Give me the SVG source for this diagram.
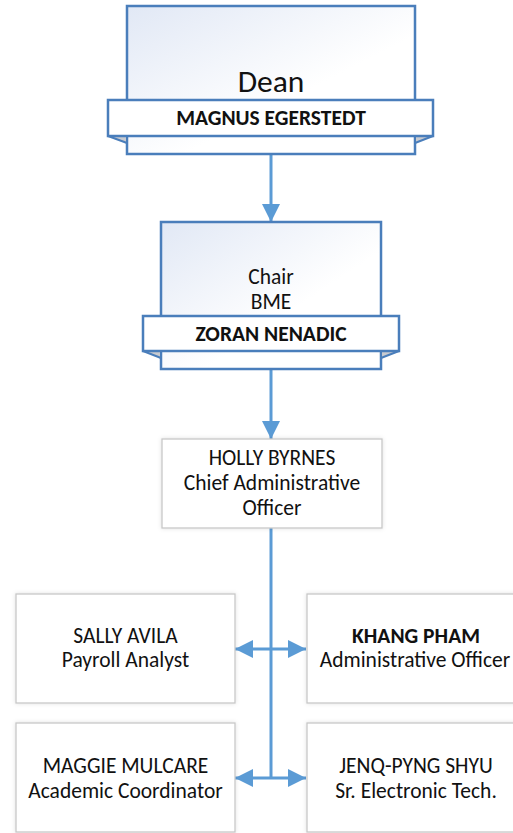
<svg xmlns="http://www.w3.org/2000/svg" width="513" height="833" viewBox="0 0 513 833">
<style>
.t{font-family:Carlito,Lato,"Liberation Sans",sans-serif;fill:#111;text-anchor:middle;font-size:21.5px}
.b{font-weight:bold}
.top{fill:url(#g);stroke:#4a7ebb;stroke-width:2.5}
.ban{fill:#fff;stroke:#4a7ebb;stroke-width:2.5}
.fold{fill:#c9cbd0;stroke:#4a7ebb;stroke-width:2;stroke-linejoin:round}
.box{fill:#fff;stroke:#c8c8c8;stroke-width:1.3;filter:url(#sh)}
.c{stroke:#5b9bd5;stroke-width:3;fill:none}
</style>
<defs>
<linearGradient id="g" x1="0" y1="0" x2="1" y2="1">
<stop offset="0" stop-color="#e1e8f5"/>
<stop offset="0.6" stop-color="#ffffff"/>
</linearGradient>
<filter id="sh" x="-10%" y="-10%" width="120%" height="120%">
<feDropShadow dx="0" dy="0" stdDeviation="2" flood-color="#000" flood-opacity="0.12"/>
</filter>
<marker id="ah" viewBox="0 0 18 18" refX="18" refY="9" markerWidth="18" markerHeight="18" markerUnits="userSpaceOnUse" orient="auto">
<path d="M0,0 L18,9 L0,18 z" fill="#5b9bd5"/>
</marker>
</defs>
<g id="connectors">
<line class="c" x1="271" y1="154" x2="271" y2="222" marker-end="url(#ah)"/>
<line class="c" x1="271" y1="369" x2="271" y2="439" marker-end="url(#ah)"/>
<line class="c" x1="271" y1="528" x2="271" y2="779"/>
<line class="c" x1="271" y1="649" x2="235" y2="649" marker-end="url(#ah)"/>
<line class="c" x1="271" y1="649" x2="306" y2="649" marker-end="url(#ah)"/>
<line class="c" x1="271" y1="778" x2="235" y2="778" marker-end="url(#ah)"/>
<line class="c" x1="271" y1="778" x2="306" y2="778" marker-end="url(#ah)"/>
</g>
<g id="dean">
<rect class="top" x="127" y="6" width="288" height="148"/>
<polygon class="fold" points="108,136 127,136 127,143"/>
<polygon class="fold" points="433,136 415,136 415,143"/>
<rect class="ban" x="108" y="100" width="325" height="36"/>
<text class="t" x="271" y="92" style="font-size:31.5px">Dean</text>
<text class="t b" x="271" y="125">MAGNUS EGERSTEDT</text>
</g>
<g id="chair">
<rect class="top" x="161" y="222" width="220" height="147"/>
<polygon class="fold" points="143,351 161,351 161,358"/>
<polygon class="fold" points="399,351 381,351 381,358"/>
<rect class="ban" x="143" y="316" width="256" height="35"/>
<text class="t" x="271" y="284">Chair</text>
<text class="t" x="271" y="309">BME</text>
<text class="t b" x="271" y="341">ZORAN NENADIC</text>
</g>
<g id="holly">
<rect class="box" x="162" y="439" width="220" height="89"/>
<text class="t" x="272" y="465">HOLLY BYRNES</text>
<text class="t" x="272" y="490">Chief Administrative</text>
<text class="t" x="272" y="515">Officer</text>
</g>
<g id="sally">
<rect class="box" x="16" y="594" width="219" height="109"/>
<text class="t" x="125.5" y="643">SALLY AVILA</text>
<text class="t" x="125.5" y="667">Payroll Analyst</text>
</g>
<g id="khang">
<rect class="box" x="307" y="594" width="219" height="109"/>
<text class="t b" x="416" y="643">KHANG PHAM</text>
<text class="t" x="415" y="667">Administrative Officer</text>
</g>
<g id="maggie">
<rect class="box" x="16" y="723" width="219" height="109"/>
<text class="t" x="125.5" y="773">MAGGIE MULCARE</text>
<text class="t" x="125.5" y="798">Academic Coordinator</text>
</g>
<g id="jenq">
<rect class="box" x="307" y="723" width="219" height="109"/>
<text class="t" x="416" y="773">JENQ-PYNG SHYU</text>
<text class="t" x="416" y="798">Sr. Electronic Tech.</text>
</g>
</svg>
